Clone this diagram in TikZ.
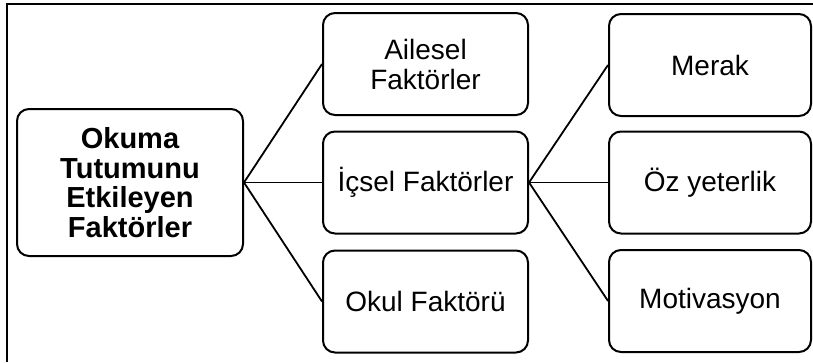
\documentclass[tikz,border=0pt]{standalone}
\usepackage{fontspec}
\setmainfont{Liberation Sans}
\begin{document}
\begin{tikzpicture}[x=1pt,y=-1pt,
  box/.style={draw, line width=2pt, rounded corners=12pt, align=center, inner sep=0pt,
    font=\fontsize{28}{30}\selectfont},
  mid/.style={box, minimum width=205pt, minimum height=102pt},
  rgt/.style={box, minimum width=202pt, minimum height=102pt},
  link/.style={line width=1.8pt}]
\useasboundingbox (0,0) rectangle (813,362);
\draw[line width=2pt] (7,362) |- (813,4);
\node[box, minimum width=226pt, minimum height=147pt,
  font=\bfseries\fontsize{29}{29.5}\selectfont] (main) at (130,182.5)
  {Okuma\\Tutumunu\\Etkileyen\\Faktörler};
\node[mid] (aile) at (425.5,64) {Ailesel\\Faktörler};
\node[mid] (icsel) at (425.5,182.5) {İçsel Faktörler};
\node[mid] (okul) at (425.5,301.5) {Okul Faktörü};
\node[rgt] (merak) at (710,65) {Merak};
\node[rgt] (oz) at (710,182.5) {Öz yeterlik};
\node[rgt] (motiv) at (710,301) {Motivasyon};
\draw[link] (main.east) -- (aile.west);
\draw[link] (main.east) -- (icsel.west);
\draw[link] (main.east) -- (okul.west);
\draw[link] (icsel.east) -- (merak.west);
\draw[link] (icsel.east) -- (oz.west);
\draw[link] (icsel.east) -- (motiv.west);
\end{tikzpicture}
\end{document}
